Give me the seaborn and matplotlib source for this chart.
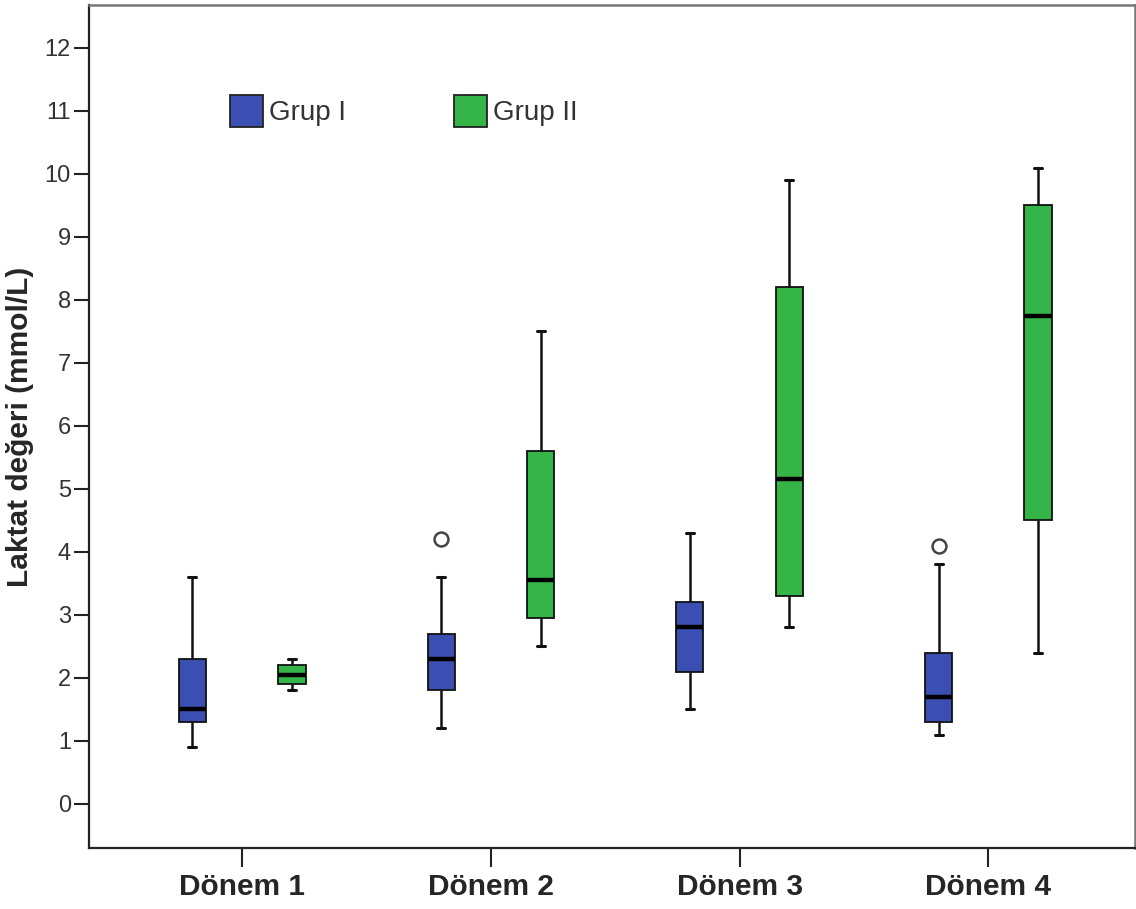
import numpy as np
import pandas as pd
import matplotlib
matplotlib.use("Agg")
import matplotlib.pyplot as plt
import seaborn as sns
from matplotlib.patches import Patch

# ---- data (five-number summaries) ----
periods = ["Dönem 1", "Dönem 2", "Dönem 3", "Dönem 4"]
groups = ["Grup I", "Grup II"]

g1_low    = [0.9, 1.2, 1.5, 1.1]
g1_q1     = [1.3, 1.8, 2.1, 1.3]
g1_median = [1.5, 2.3, 2.8, 1.7]
g1_q3     = [2.3, 2.7, 3.2, 2.4]
g1_high   = [3.6, 3.6, 4.3, 3.8]
g1_outlier = [None, 4.2, None, 4.1]

g2_low    = [1.8, 2.5, 2.8, 2.4]
g2_q1     = [1.9, 2.95, 3.3, 4.5]
g2_median = [2.05, 3.55, 5.15, 7.75]
g2_q3     = [2.2, 5.6, 8.2, 9.5]
g2_high   = [2.3, 7.5, 9.9, 10.1]
g2_outlier = [None, None, None, None]

y_ticks = list(range(0, 13))

colors = {"Grup I": "#3b4fb2", "Grup II": "#35b548"}


def sample(lo, q1, med, q3, hi, out):
    # 9 values whose quartiles are exactly q1 / median / q3
    last = hi if out is None else out
    return [lo, q1, q1, med, med, q3, q3, hi, last]


rows = []
for grp, lows, q1s, meds, q3s, highs, outs in [
    ("Grup I", g1_low, g1_q1, g1_median, g1_q3, g1_high, g1_outlier),
    ("Grup II", g2_low, g2_q1, g2_median, g2_q3, g2_high, g2_outlier),
]:
    for i, p in enumerate(periods):
        for v in sample(lows[i], q1s[i], meds[i], q3s[i], highs[i], outs[i]):
            rows.append({"Dönem": p, "Grup": grp, "value": v})
df = pd.DataFrame(rows)

# ---- plot ----
sns.set_style("white")
plt.rcParams["font.family"] = ["Liberation Sans", "DejaVu Sans"]

fig = plt.figure(figsize=(11.36, 9.09), dpi=100)
ax = fig.add_axes([89 / 1136, 1 - 848 / 909, (1135 - 89) / 1136, (848 - 5) / 909])

sns.boxplot(
    data=df, x="Dönem", y="value", hue="Grup",
    order=periods, hue_order=groups, palette=colors,
    width=0.8, gap=0.726, whis=1.5, linecolor="#111111", linewidth=1.3,
    saturation=1,
    boxprops=dict(edgecolor="#111111", linewidth=1.3),
    medianprops=dict(color="black", linewidth=3.2),
    whiskerprops=dict(color="#111111", linewidth=1.8),
    capprops=dict(color="#111111", linewidth=2.2),
    flierprops=dict(marker="o", markersize=10, markerfacecolor="none",
                    markeredgecolor="#444444", markeredgewidth=1.8),
    capwidths=0.032,
    ax=ax,
)

ax.set_xlim(-0.616, 3.59)
ax.set_ylim(-0.70, 12.68)
ax.set_yticks(y_ticks)
ax.set_yticklabels([str(t) for t in y_ticks])

ax.tick_params(axis="y", which="both", left=True, length=11, width=1.5,
               color="#222222", labelsize=17, labelcolor="#333333", pad=2)
ax.tick_params(axis="x", which="both", bottom=True, length=14, width=1.5,
               color="#222222", labelsize=21.5, pad=4)
for lab in ax.get_xticklabels():
    lab.set_fontweight("bold")

ax.set_xlabel("")
ax.set_ylabel("Laktat değeri (mmol/L)", fontsize=21.5, fontweight="bold")
ax.yaxis.set_label_coords((34 - 89) / 1046, 0.5)

for side in ["left", "bottom"]:
    ax.spines[side].set_color("#222222")
    ax.spines[side].set_linewidth(1.6)
for side in ["top", "right"]:
    ax.spines[side].set_color("#777777")
    ax.spines[side].set_linewidth(1.8)

if ax.get_legend() is not None:
    ax.get_legend().remove()
handles = [Patch(facecolor=colors[g], edgecolor="#222222", linewidth=1.3) for g in groups]
ax.legend(handles, groups, loc="center left",
          bbox_to_anchor=((230 - 89) / 1046, 1 - (111 - 5) / 843),
          ncol=2, frameon=False, fontsize=20, handlelength=1.19,
          handleheight=1.45, handletextpad=0.2, columnspacing=3.9,
          borderpad=0, borderaxespad=0, labelcolor="#333333")

fig.savefig("out.png", dpi=100)
